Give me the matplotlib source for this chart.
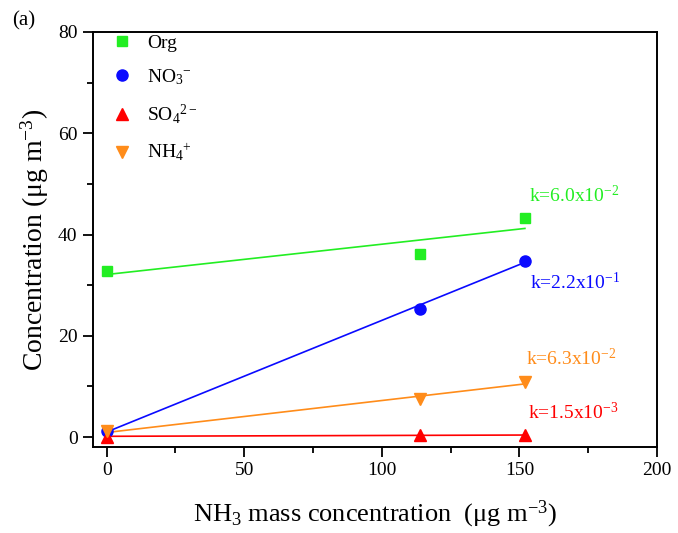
import matplotlib
matplotlib.use("Agg")
import matplotlib.pyplot as plt
from matplotlib.ticker import MultipleLocator

plt.rcParams['font.family'] = ['Liberation Serif', 'DejaVu Serif']
plt.rcParams['mathtext.fontset'] = 'custom'
plt.rcParams['mathtext.rm'] = 'Liberation Serif'
plt.rcParams['mathtext.it'] = 'Liberation Serif:italic'
plt.rcParams['mathtext.default'] = 'rm'

# Data
nh3 = [0, 113.8, 152]
org = [32.8, 36.1, 43.2]
no3 = [1.2, 25.2, 34.7]
so4 = [0.1, 0.4, 0.4]
nh4 = [1.2, 7.6, 10.9]

fit_x = [0, 152]
fit_org = [32.1, 41.2]
fit_no3 = [1.0, 34.5]
fit_so4 = [0.15, 0.4]
fit_nh4 = [0.9, 10.5]

labels = ['Org', 'NO$_3$$^{-}$', 'SO$_4$$^{2-}$', 'NH$_4$$^{+}$']
k_texts = ['k=6.0x10$^{-2}$', 'k=2.2x10$^{-1}$', 'k=1.5x10$^{-3}$', 'k=6.3x10$^{-2}$']
k_pos = [(153.5, 47.8), (154, 30.6), (153, 4.8), (152.4, 15.6)]

colors = ['#22ee22', '#0a0aff', '#ff0000', '#ff8c1a']
markers = ['s', 'o', '^', 'v']
msizes = [7, 8, 8, 8.5]

fig = plt.figure(figsize=(6.78, 5.33), dpi=100)
ax = fig.add_axes([0.137, 0.161, 0.832, 0.779])

series = [org, no3, so4, nh4]
fits = [fit_org, fit_no3, fit_so4, fit_nh4]
for s, f, c, m, ms, lab in zip(series, fits, colors, markers, msizes, labels):
    ax.plot(fit_x, f, color=c, lw=1.2, zorder=2)
    ax.plot(nh3, s, linestyle='none', marker=m, color=c, markersize=ms, label=lab, zorder=3)

for t, (x, y), c in zip(k_texts, k_pos, colors):
    ax.text(x, y, t, color=c, fontsize=14, va='center', ha='left')

ax.set_xlim(-5, 200)
ax.set_ylim(-2, 80)
ax.xaxis.set_major_locator(MultipleLocator(50))
ax.xaxis.set_minor_locator(MultipleLocator(25))
ax.yaxis.set_major_locator(MultipleLocator(20))
ax.yaxis.set_minor_locator(MultipleLocator(10))
ax.tick_params(which='major', direction='out', length=7, width=1.3, labelsize=14, pad=4)
ax.tick_params(which='minor', direction='out', length=4, width=1.3)
for sp in ax.spines.values():
    sp.set_linewidth(1.4)

ax.set_xlabel('NH$_3$ mass concentration  (μg m$^{-3}$)', fontsize=19, labelpad=14)
ax.set_ylabel('Concentration (μg m$^{-3}$)', fontsize=20, labelpad=5)

leg = ax.legend(loc='upper left', bbox_to_anchor=(0.031, 1.0), frameon=False,
                fontsize=14, handlelength=1.0, handletextpad=0.8,
                labelspacing=0.8, borderaxespad=0, borderpad=0.1, numpoints=1)

fig.text(0.018, 0.96, '(a)', fontsize=15, ha='left', va='center')

fig.savefig('out.png', dpi=100)
